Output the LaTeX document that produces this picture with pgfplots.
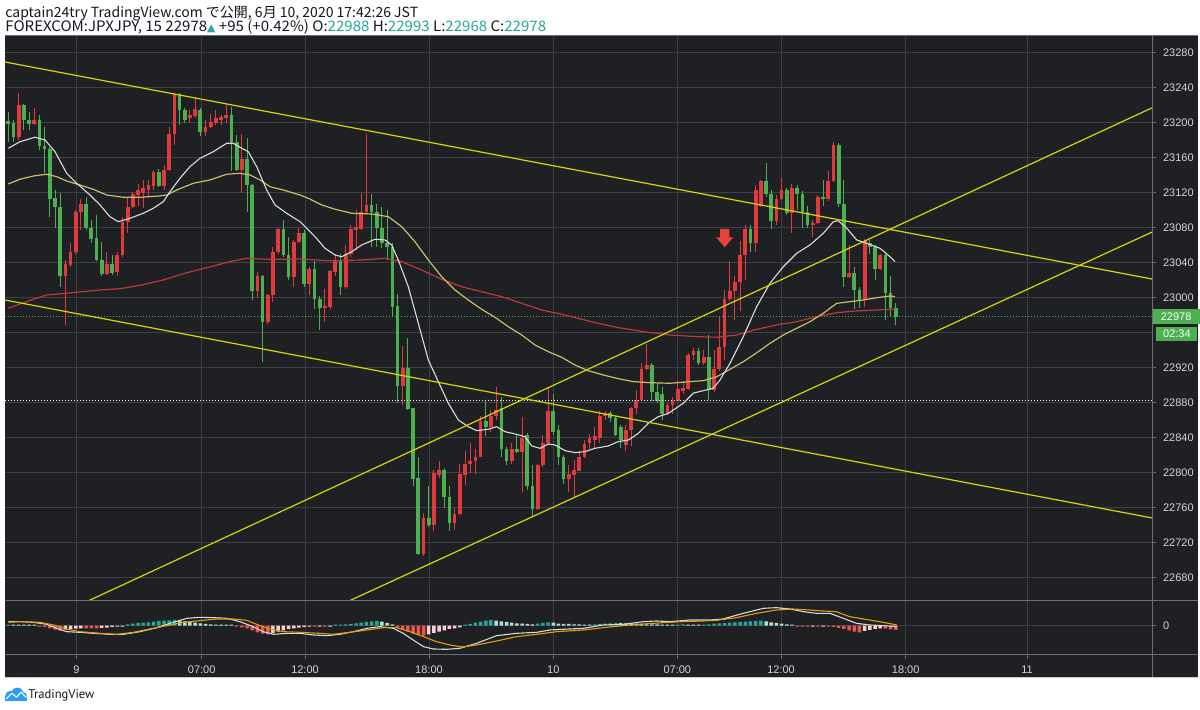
\documentclass[border=0pt]{standalone}
\usepackage{fontspec}
\setmainfont{Liberation Sans}
\newfontfamily\cjk{Noto Sans CJK JP}
\newfontfamily\dejavu{DejaVu Sans}
\newfontfamily\ptsans{PT Sans}
\usepackage{pgfplots}
\usepackage{pgfplotstable}
\pgfplotsset{compat=1.18}
\definecolor{chartbg}{HTML}{1F2024}
\definecolor{gridc}{HTML}{3D3F46}
\definecolor{sepc}{HTML}{6B6E77}
\definecolor{upred}{HTML}{E0393E}
\definecolor{dngreen}{HTML}{4CAF50}
\definecolor{maW}{HTML}{DCDCDC}
\definecolor{maY}{HTML}{C9BC6A}
\definecolor{maR}{HTML}{B83B3B}
\definecolor{trendY}{HTML}{D6D60A}
\definecolor{macdW}{HTML}{D8D8D8}
\definecolor{sigO}{HTML}{DFA00F}
\definecolor{tealD}{HTML}{26A69A}
\definecolor{tealL}{HTML}{B2DFDB}
\definecolor{redH}{HTML}{EF5350}
\definecolor{pinkH}{HTML}{FFCDD2}
\definecolor{lbl}{HTML}{D1D4DC}
\definecolor{headtxt}{HTML}{131722}
\definecolor{headteal}{HTML}{26A69A}
\definecolor{arrowred}{HTML}{E8403A}
\definecolor{tvblue}{HTML}{2A9DF4}
\definecolor{borderc}{HTML}{C8CCD6}

\pgfdeclareplotmark{tvarrow}{%
  \pgfpathmoveto{\pgfpoint{-2.33pt}{4.15pt}}%
  \pgfpathlineto{\pgfpoint{2.33pt}{4.15pt}}%
  \pgfpathlineto{\pgfpoint{2.33pt}{0pt}}%
  \pgfpathlineto{\pgfpoint{4.33pt}{0pt}}%
  \pgfpathlineto{\pgfpoint{0pt}{-5pt}}%
  \pgfpathlineto{\pgfpoint{-4.33pt}{0pt}}%
  \pgfpathlineto{\pgfpoint{-2.33pt}{0pt}}%
  \pgfpathclose\pgfusepathqfill}

% up candles (red): k o h l c
\pgfplotstableread[row sep=\\]{
k o h l c\\
2 23183 23233 23180 23220\\
5 23198 23216 23197 23203\\
11 23024 23043 22968 23038\\
12 23037 23062 23035 23052\\
13 23052 23100 23050 23098\\
14 23098 23112 23077 23107\\
19 23027 23052 23025 23038\\
21 23029 23052 23024 23048\\
22 23048 23092 23046 23086\\
23 23086 23113 23073 23103\\
24 23103 23120 23102 23118\\
25 23117 23129 23104 23123\\
26 23119 23134 23102 23125\\
27 23123 23134 23115 23128\\
28 23127 23145 23123 23143\\
30 23127 23151 23123 23145\\
31 23145 23195 23144 23187\\
32 23187 23233 23174 23232\\
35 23205 23214 23199 23208\\
36 23207 23229 23205 23215\\
38 23189 23203 23184 23195\\
39 23195 23210 23193 23200\\
40 23199 23214 23197 23205\\
41 23203 23208 23197 23206\\
42 23205 23221 23199 23208\\
45 23145 23187 23119 23158\\
48 23007 23029 22999 23024\\
50 22972 23004 22970 23003\\
51 23003 23058 22995 23052\\
52 23052 23079 23050 23078\\
55 23023 23065 23012 23063\\
56 23063 23079 23062 23073\\
58 23015 23035 23003 23032\\
61 22988 23010 22972 22990\\
62 22989 23031 22987 23030\\
63 23029 23050 23024 23043\\
65 23012 23060 23010 23050\\
66 23050 23083 23046 23078\\
67 23077 23100 23054 23080\\
68 23078 23119 23077 23098\\
69 23098 23187 23096 23105\\
76 22899 22944 22877 22919\\
80 22707 22753 22704 22748\\
82 22740 22803 22733 22799\\
83 22797 22813 22793 22803\\
86 22742 22759 22734 22752\\
87 22752 22810 22751 22798\\
88 22797 22824 22785 22810\\
89 22810 22834 22799 22813\\
90 22813 22827 22798 22818\\
91 22818 22864 22817 22859\\
93 22852 22871 22846 22864\\
94 22864 22898 22860 22871\\
97 22813 22833 22810 22827\\
99 22823 22863 22778 22839\\
102 22758 22810 22757 22808\\
103 22808 22843 22806 22833\\
104 22833 22898 22831 22870\\
108 22792 22808 22778 22798\\
109 22797 22814 22772 22803\\
110 22802 22824 22801 22818\\
111 22817 22837 22816 22832\\
112 22834 22844 22827 22839\\
113 22837 22852 22828 22842\\
114 22839 22870 22834 22864\\
115 22864 22870 22860 22868\\
119 22831 22854 22824 22848\\
120 22848 22875 22830 22873\\
121 22873 22894 22867 22883\\
122 22883 22925 22882 22918\\
123 22918 22947 22917 22923\\
127 22867 22879 22865 22877\\
128 22877 22886 22867 22882\\
129 22882 22904 22881 22895\\
130 22893 22904 22890 22896\\
131 22895 22936 22894 22934\\
132 22934 22942 22928 22939\\
134 22925 22940 22923 22932\\
136 22894 22940 22892 22918\\
137 22918 22978 22916 22943\\
138 22943 23008 22928 22998\\
139 22998 23041 22996 23007\\
140 23007 23024 22974 23018\\
141 23018 23064 22984 23048\\
142 23048 23083 23020 23078\\
144 23062 23128 23052 23123\\
145 23104 23134 23103 23133\\
148 23087 23117 23083 23112\\
149 23112 23136 23111 23123\\
151 23096 23130 23074 23125\\
155 23083 23088 23069 23085\\
156 23085 23117 23084 23115\\
158 23112 23144 23110 23133\\
159 23133 23178 23132 23174\\
162 23023 23060 23022 23028\\
165 22997 23067 22989 23064\\
168 23032 23050 23031 23048\\
}\upc

% down candles (green): k o h l c
\pgfplotstableread[row sep=\\]{
k o h l c\\
0 23201 23212 23178 23198\\
1 23199 23203 23178 23183\\
3 23220 23221 23191 23203\\
4 23203 23212 23191 23198\\
6 23203 23208 23168 23173\\
7 23173 23195 23142 23169\\
8 23170 23172 23092 23112\\
9 23113 23123 23079 23103\\
10 23103 23119 23012 23024\\
15 23107 23115 23077 23079\\
16 23079 23088 23062 23067\\
17 23068 23094 23041 23043\\
18 23043 23063 23024 23027\\
20 23038 23048 23025 23028\\
29 23143 23147 23126 23127\\
33 23232 23233 23197 23214\\
34 23214 23216 23199 23203\\
37 23214 23216 23184 23189\\
43 23208 23218 23144 23177\\
44 23177 23185 23144 23145\\
46 23158 23182 23098 23128\\
47 23128 23130 22997 23007\\
49 23024 23025 22926 22972\\
53 23078 23088 23046 23048\\
54 23048 23069 23020 23023\\
57 23073 23077 23012 23015\\
59 23032 23041 22987 22998\\
60 22998 23001 22963 22988\\
64 23043 23050 23003 23012\\
70 23105 23118 23058 23098\\
71 23098 23107 23058 23079\\
72 23079 23103 23056 23062\\
73 23062 23100 23043 23057\\
74 23058 23062 22978 22989\\
75 22990 23004 22879 22899\\
77 22919 22953 22871 22872\\
78 22873 22874 22784 22792\\
79 22793 22818 22705 22707\\
81 22748 22784 22738 22740\\
84 22803 22805 22759 22772\\
85 22772 22784 22733 22742\\
92 22859 22883 22841 22852\\
95 22873 22886 22817 22827\\
96 22827 22829 22808 22813\\
98 22827 22843 22822 22823\\
100 22843 22845 22780 22784\\
101 22784 22808 22749 22758\\
105 22870 22890 22843 22846\\
106 22848 22854 22808 22817\\
107 22818 22820 22787 22792\\
116 22868 22870 22858 22862\\
117 22862 22864 22842 22843\\
118 22852 22854 22828 22837\\
124 22923 22925 22881 22892\\
125 22892 22902 22879 22882\\
126 22890 22898 22860 22867\\
133 22939 22942 22923 22925\\
135 22932 22957 22883 22894\\
143 23078 23083 23052 23062\\
146 23133 23153 23115 23118\\
147 23118 23123 23078 23087\\
150 23123 23125 23094 23096\\
152 23125 23128 23100 23118\\
153 23118 23121 23079 23097\\
154 23098 23104 23079 23083\\
157 23115 23134 23104 23112\\
160 23174 23176 23103 23107\\
161 23107 23134 23012 23023\\
163 23028 23035 22987 23008\\
164 23008 23012 22988 22997\\
166 23062 23066 23050 23058\\
167 23058 23060 23020 23032\\
169 23048 23050 22974 23005\\
170 23005 23024 22977 22988\\
171 22988 22993 22968 22978\\
}\dnc

% white moving average
\pgfplotstableread[row sep=\\]{
k p\\
0 23170.3\\ 2.25 23177.8\\ 5.14 23182.9\\ 7.07 23179.8\\ 9.0 23166.4\\ 11.25 23141.7\\
13.18 23130.3\\ 15.74 23116.9\\ 17.67 23105.5\\ 19.59 23092.1\\ 21.19 23086.4\\ 23.45 23090.3\\
26.01 23096.0\\ 27.94 23101.7\\ 29.87 23109.3\\ 31.16 23120.7\\ 33.08 23136.0\\ 35.01 23149.3\\
36.94 23158.9\\ 39.5 23166.4\\ 42.08 23176.0\\ 43.35 23176.0\\ 44.97 23170.3\\ 46.24 23166.4\\
47.86 23149.3\\ 49.79 23122.6\\ 51.39 23105.5\\ 53.64 23096.0\\ 56.2 23086.4\\ 57.17 23080.7\\
59.1 23069.3\\ 61.02 23056.0\\ 62.95 23048.3\\ 64.24 23046.4\\ 66.17 23052.1\\ 68.09 23059.8\\
70.66 23066.3\\ 72.58 23065.5\\ 73.87 23059.8\\ 75.14 23042.6\\ 77.07 23012.1\\ 79.0 22970.3\\
80.93 22928.3\\ 82.85 22903.6\\ 84.78 22878.9\\ 86.71 22859.8\\ 88.63 22852.1\\ 90.25 22847.6\\
92.49 22849.2\\ 94.1 22852.1\\ 95.7 22846.4\\ 97.63 22843.8\\ 99.56 22840.7\\ 100.85 22830.1\\
102.45 22827.4\\ 104.05 22832.3\\ 105.34 22831.2\\ 107.27 22824.7\\ 109.19 22822.5\\ 111.12 22823.6\\
113.05 22827.4\\ 115.6 22830.1\\ 117.5 22835.0\\ 119.5 22836.9\\ 121.4 22844.6\\ 123.3 22856.0\\
125.2 22863.5\\ 127.2 22867.4\\ 130.06 22878.9\\ 131.98 22890.4\\ 133.91 22893.3\\ 135.84 22896.0\\
137.13 22905.5\\ 139.06 22924.6\\ 141.62 22955.0\\ 144.2 22989.3\\ 146.76 23016.0\\ 149.33 23035.0\\
151.91 23050.3\\ 154.47 23059.8\\ 157.03 23073.1\\ 158.96 23086.4\\ 159.92 23087.5\\ 161.54 23078.9\\
163.47 23065.5\\ 165.4 23061.7\\ 167.96 23056.0\\ 169.88 23046.4\\ 170.85 23040.7\\
}\maw

% yellow moving average
\pgfplotstableread[row sep=\\]{
k p\\
0 23129.5\\ 2.25 23134.9\\ 4.82 23138.6\\ 7.4 23140.6\\ 9.33 23137.8\\ 11.25 23132.9\\
13.82 23128.3\\ 16.38 23123.4\\ 18.96 23116.9\\ 22.16 23114.3\\ 25.38 23114.3\\ 29.23 23115.8\\
30.52 23116.9\\ 32.45 23122.6\\ 35.65 23130.3\\ 38.86 23134.1\\ 42.08 23140.6\\ 44.64 23141.7\\
46.57 23139.8\\ 48.5 23134.1\\ 50.42 23126.4\\ 52.99 23122.6\\ 56.2 23116.9\\ 57.8 23113.1\\
60.39 23105.5\\ 62.95 23100.6\\ 66.17 23096.0\\ 70.02 23095.2\\ 73.22 23092.1\\ 75.8 23080.7\\
78.36 23063.5\\ 80.93 23042.6\\ 83.51 23023.5\\ 86.07 23008.3\\ 88.63 22996.9\\ 91.21 22986.3\\
93.78 22977.1\\ 96.34 22966.4\\ 98.92 22956.9\\ 101.48 22945.5\\ 104.05 22937.8\\ 106.63 22931.4\\
109.19 22922.6\\ 111.75 22916.1\\ 114.64 22911.2\\ 117.23 22907.4\\ 120.42 22903.6\\ 123.64 22902.4\\
127.5 22901.7\\ 131.35 22903.6\\ 133.91 22904.7\\ 136.49 22909.2\\ 139.06 22917.7\\ 141.62 22926.4\\
144.2 22936.6\\ 146.76 22947.4\\ 149.33 22956.9\\ 151.91 22964.6\\ 154.47 22972.1\\ 157.03 22981.7\\
159.61 22993.1\\ 162.18 22995.0\\ 164.74 22996.9\\ 167.32 22999.5\\ 169.88 23001.5\\ 170.85 23000.7\\
}\may

% red moving average
\pgfplotstableread[row sep=\\]{
k p\\
0 22987.4\\ 2.25 22992.3\\ 4.82 22997.7\\ 7.4 23002.6\\ 11.25 23004.6\\ 15.11 23006.9\\
17.67 23008.3\\ 21.52 23009.8\\ 25.38 23013.7\\ 29.87 23019.8\\ 34.37 23028.1\\ 38.23 23033.8\\
42.72 23040.7\\ 45.93 23044.6\\ 49.79 23043.4\\ 53.64 23043.4\\ 56.2 23043.8\\ 61.66 23041.8\\
68.09 23042.6\\ 72.58 23044.6\\ 75.8 23040.7\\ 79.65 23031.2\\ 83.51 23020.6\\ 87.36 23012.1\\
91.21 23006.4\\ 95.07 23000.7\\ 98.92 22993.1\\ 102.77 22985.5\\ 106.63 22980.6\\ 110.48 22974.9\\
113.05 22971.0\\ 117.23 22965.7\\ 122.35 22960.7\\ 127.5 22956.9\\ 132.64 22955.0\\ 136.49 22954.3\\
140.35 22956.9\\ 144.2 22963.4\\ 148.05 22968.4\\ 151.91 22972.1\\ 155.76 22977.8\\ 159.61 22982.4\\
163.47 22984.4\\ 167.32 22985.5\\ 170.85 22986.6\\
}\mar

% MACD line and signal
\pgfplotstableread[row sep=\\]{
k v\\
0 12\\ 2.3 12\\ 4.8 10\\ 7.4 4\\ 9.3 -8\\ 11.2 -18\\ 13.8 -20\\ 16.4 -23\\ 19.6 -26\\ 22.2 -26\\
25.4 -18\\ 28.6 -6\\ 31.8 10\\ 34.4 22\\ 36.9 25\\ 39.5 24\\ 42.1 22\\ 44.6 12\\ 47.2 -3\\ 49.1 -18\\
51.1 -26\\ 53.6 -23\\ 56.2 -23\\ 58.8 -28\\ 61.3 -30\\ 63.9 -26\\ 66.5 -18\\ 69.1 -8\\ 71.6 -3\\
74.2 -8\\ 76.1 -23\\ 78.0 -43\\ 80.0 -63\\ 81.9 -70\\ 84.5 -71\\ 87.0 -68\\ 90.2 -53\\ 94.1 -30\\
97.9 -23\\ 101.8 -20\\ 104.4 -13\\ 106.9 -11\\ 110.8 -8\\ 114.6 2\\ 118.5 4\\ 122.4 12\\ 124.9 14\\
127.5 12\\ 131.3 17\\ 135.2 17\\ 137.7 20\\ 141.6 37\\ 145.5 52\\ 148.0 54\\ 150.6 50\\ 153.2 42\\
155.7 37\\ 158.3 37\\ 160.9 22\\ 163.4 7\\ 166.0 2\\ 168.6 0\\ 171.2 -3\\
}\macdl
\pgfplotstableread[row sep=\\]{
k v\\
0 10\\ 2.3 12\\ 6.1 10\\ 8.7 2\\ 11.2 -10\\ 13.8 -18\\ 17.7 -23\\ 20.9 -26\\ 24.1 -20\\ 27.3 -10\\
30.5 0\\ 33.7 10\\ 36.9 15\\ 40.1 20\\ 43.4 20\\ 45.9 16\\ 48.5 0\\ 50.4 -10\\ 53.0 -18\\ 56.2 -20\\
60.0 -23\\ 62.6 -26\\ 65.8 -20\\ 69.1 -13\\ 72.3 -6\\ 74.8 -6\\ 77.4 -18\\ 80.0 -33\\ 82.5 -48\\
85.1 -58\\ 87.5 -64\\ 90.2 -58\\ 94.1 -46\\ 97.9 -33\\ 101.8 -26\\ 105.7 -18\\ 110.8 -13\\ 114.6 -6\\
118.5 0\\ 122.4 5\\ 126.2 9\\ 130.0 12\\ 133.9 14\\ 136.5 16\\ 140.3 24\\ 144.2 37\\ 148.0 47\\
151.2 50\\ 154.3 47\\ 156.9 44\\ 159.5 42\\ 162.1 27\\ 165.9 17\\ 168.6 10\\ 171.2 2\\
}\sigl

% MACD histogram, by colour
\pgfplotstableread[row sep=\\]{
k v\\
0 3\\ 23 4\\ 24 6\\ 25 8\\ 26 9\\ 27 10\\ 28 12\\ 29 14\\ 30 15\\ 31 16\\ 32 17\\
63 3\\ 64 3\\ 65 4\\ 66 5\\ 67 7\\ 68 9\\ 69 11\\ 70 13\\ 71 14\\
88 3\\ 89 5\\ 90 9\\ 91 12\\ 92 15\\ 93 17\\ 102 6\\ 103 8\\ 104 10\\
113 4\\ 114 5\\ 115 6\\ 116 7\\ 117 8\\ 129 3\\ 130 4\\ 134 3\\ 135 4\\ 136 6\\
137 7\\ 138 8\\ 139 9\\ 140 10\\ 141 11\\ 142 12\\ 143 13\\ 144 14\\ 145 15\\
}\hteal
\pgfplotstableread[row sep=\\]{
k v\\
1 3\\ 2 3\\ 3 3\\ 4 3\\ 5 3\\ 33 15\\ 34 13\\ 35 11\\ 36 9\\ 37 7\\ 38 5\\ 39 4\\ 40 3\\ 41 3\\ 42 3\\ 43 3\\
72 12\\ 73 8\\ 74 4\\ 94 15\\ 95 13\\ 96 11\\ 97 9\\ 98 7\\ 99 6\\ 100 5\\ 101 4\\
105 9\\ 106 6\\ 107 5\\ 108 5\\ 109 4\\ 110 4\\ 111 3\\ 112 3\\
118 8\\ 119 7\\ 120 7\\ 121 6\\ 122 5\\ 123 4\\ 124 4\\ 125 4\\ 126 3\\ 127 3\\ 128 3\\
131 3\\ 132 3\\ 133 3\\ 146 13\\ 147 10\\ 148 8\\ 149 6\\ 150 4\\ 151 3\\
}\hlight
\pgfplotstableread[row sep=\\]{
k v\\
6 -3\\ 7 -4\\ 8 -8\\ 9 -12\\ 10 -15\\ 15 -8\\ 16 -8\\ 17 -8\\
44 -3\\ 45 -5\\ 46 -8\\ 47 -14\\ 48 -20\\ 49 -24\\ 50 -26\\ 59 -3\\ 61 -3\\
75 -6\\ 76 -12\\ 77 -18\\ 78 -24\\ 79 -28\\ 80 -30\\
152 -3\\ 153 -3\\ 154 -3\\ 156 -3\\ 158 -3\\ 159 -4\\ 160 -7\\ 161 -10\\ 162 -14\\ 163 -18\\ 164 -20\\
169 -9\\ 170 -11\\ 171 -13\\
}\hred
\pgfplotstableread[row sep=\\]{
k v\\
11 -12\\ 12 -10\\ 13 -9\\ 14 -8\\ 18 -7\\ 19 -6\\ 20 -4\\ 21 -3\\ 22 -3\\
51 -22\\ 52 -18\\ 53 -14\\ 54 -10\\ 55 -8\\ 56 -6\\ 57 -4\\ 58 -3\\ 60 -3\\ 62 -3\\
81 -26\\ 82 -22\\ 83 -18\\ 84 -14\\ 85 -10\\ 86 -8\\ 87 -5\\
155 -3\\ 157 -3\\ 165 -16\\ 166 -13\\ 167 -10\\ 168 -8\\
}\hpink

\pgfplotsset{
  tvcandle/.style={only marks, mark=*, mark size=0pt,
    mark options={draw=none, fill=none}, forget plot,
    error bars/.cd, y dir=plus, y explicit, error mark=none},
  tvbase/.style={scale only axis, anchor=south west, width=573.5pt,
    xmin=-0.636, xmax=220.366, axis line style={draw=none},
    xtick={13.14,37.26,57.17,81.06,105.0,128.9,148.9,172.9,196.3},
    xmajorgrids, ymajorgrids,
    grid style={draw=gridc, line width=0.5pt},
    tick align=outside, major tick length=2pt,
    ytick pos=right, yticklabel pos=right,
    scaled y ticks=false,
    ytick style={draw=sepc, line width=0.5pt},
    yticklabel style={font=\fontsize{5.5}{6}\selectfont, text=lbl,
      /pgf/number format/fixed, /pgf/number format/precision=0,
      /pgf/number format/1000 sep={}},
    /pgf/number format/1000 sep={},
    /pgf/number format/assume math mode=true},
}

\begin{document}
\begin{tikzpicture}
\useasboundingbox (0,0) rectangle (600pt,355pt);
\fill[white] (0,0) rectangle (600pt,355pt);
\fill[chartbg] (2.5pt,16pt) rectangle (599pt,337pt);

% header
\node[anchor=base west, inner sep=0pt, text=headtxt,
      font=\cjk\fontsize{7.0}{8}\selectfont] at (2.5pt,346.3pt)
  {captain24try TradingView.com で公開, 6月 10, 2020 17:42:26 JST};
\node[anchor=base west, inner sep=0pt, text=headtxt,
      font=\cjk\fontsize{7.2}{8}\selectfont] at (2.5pt,339pt)
  {\scalebox{1.045}[1]{FOREXCOM:JPXJPY, 15 22978{\color{headteal}\dejavu\fontsize{5.2}{6}\selectfont\raisebox{0.3pt}{▲}} +95 (+0.42\%) O:{\color{headteal}22988} H:{\color{headteal}22993} L:{\color{headteal}22968} C:{\color{headteal}22978}}};

% main price panel
\begin{axis}[tvbase, at={(2.5pt,54.5pt)}, height=282.5pt,
  ymin=22652.91, ymax=23298.63, clip mode=individual,
  xticklabel=\empty, xtick style={draw=none},
  ytick={22680,22720,22760,22800,22840,22880,22920,23000,23040,23080,23120,23160,23200,23240,23280},
  extra y ticks={22960}, extra y tick labels={},
  extra y tick style={ytick style={draw=none}}]

% candles
\addplot[tvcandle, error bar style={draw=upred, line width=0.5pt}]
  table[x=k, y=l, y error plus expr=\thisrow{h}-\thisrow{l}] {\upc};
\addplot[tvcandle, error bar style={draw=upred, line width=1.85pt}]
  table[x=k, y=o, y error plus expr=\thisrow{c}-\thisrow{o}] {\upc};
\addplot[tvcandle, error bar style={draw=dngreen, line width=0.5pt}]
  table[x=k, y=l, y error plus expr=\thisrow{h}-\thisrow{l}] {\dnc};
\addplot[tvcandle, error bar style={draw=dngreen, line width=1.85pt}]
  table[x=k, y=c, y error plus expr=\thisrow{o}-\thisrow{c}] {\dnc};

% horizontal dotted lines
\addplot[white, line width=0.5pt, dash pattern=on 0.5pt off 1pt]
  coordinates {(-0.636,22881.5) (220.366,22881.5)};
\addplot[dngreen, line width=0.5pt, dash pattern=on 0.5pt off 1pt]
  coordinates {(-0.636,22978) (220.366,22978)};

% moving averages
\addplot[maR, line width=0.6pt] table[x=k, y=p] {\mar};
\addplot[maY, line width=0.6pt] table[x=k, y=p] {\may};
\addplot[maW, line width=0.55pt] table[x=k, y=p] {\maw};

% trend lines
\addplot[trendY, line width=0.6pt] coordinates {(-0.636,23268.9) (220.366,23020.9)};
\addplot[trendY, line width=0.6pt] coordinates {(-0.636,22996.9) (220.366,22747.8)};
\addplot[trendY, line width=0.6pt] coordinates {(0,22610.7) (220.366,23216.5)};
\addplot[trendY, line width=0.6pt] coordinates {(50,22610.3) (220.366,23074.5)};

% red arrow
\addplot[only marks, mark=tvarrow, mark options={fill=arrowred, draw=none}]
  coordinates {(138.03,23068.6)};

% last price labels
\node[anchor=west, fill=dngreen, text=white, inner sep=0pt, minimum width=23.7pt,
      minimum height=7.6pt, font=\fontsize{5.5}{6}\selectfont] at (axis cs:220.366,22978) {22978};
\node[anchor=west, fill=dngreen, text=white, inner sep=0pt, minimum width=20.5pt,
      minimum height=7.4pt, font=\fontsize{5.5}{6}\selectfont] at ([xshift=2pt]axis cs:220.366,22958.1) {02:34};
\end{axis}

% MACD panel
\begin{axis}[tvbase, at={(2.5pt,27.5pt)}, height=27pt,
  ymin=-88, ymax=74, ytick={0},
  xtick pos=left,
  xtick style={draw=sepc, line width=0.5pt},
  xticklabels={9,07:00,12:00,18:00,10,07:00,12:00,18:00,11},
  xticklabel style={font=\fontsize{5.5}{6}\selectfont, text=lbl}]
\addplot[ybar, bar width=1.75pt, bar shift=0pt, fill=tealD, draw=none] table[x=k, y=v] {\hteal};
\addplot[ybar, bar width=1.75pt, bar shift=0pt, fill=tealL, draw=none] table[x=k, y=v] {\hlight};
\addplot[ybar, bar width=1.75pt, bar shift=0pt, fill=redH, draw=none] table[x=k, y=v] {\hred};
\addplot[ybar, bar width=1.75pt, bar shift=0pt, fill=pinkH, draw=none] table[x=k, y=v] {\hpink};
\addplot[macdW, line width=0.55pt] table[x=k, y=v] {\macdl};
\addplot[sigO, line width=0.55pt] table[x=k, y=v] {\sigl};
\end{axis}

% pane separators
\draw[sepc, line width=0.5pt] (2.5pt,337pt) -- (599pt,337pt);
\draw[sepc, line width=0.5pt] (2.5pt,54.5pt) -- (599pt,54.5pt);
\draw[sepc, line width=0.5pt] (2.5pt,27.5pt) -- (599pt,27.5pt);
\draw[sepc, line width=0.5pt] (576pt,16pt) -- (576pt,337pt);
\draw[borderc, line width=0.5pt] (2.5pt,16pt) -- (599pt,16pt);

% footer logo
\begin{scope}
\fill[tvblue] (2.5pt,4.6pt) rectangle (13.3pt,7.2pt);
\fill[tvblue] (5.2pt,7pt) circle (2.6pt);
\fill[tvblue] (8.7pt,8.2pt) circle (3pt);
\fill[tvblue] (11.4pt,6.9pt) circle (2.1pt);
\draw[white, line width=0.55pt, line join=round] (3.2pt,5.6pt) -- (6pt,8.4pt) -- (8.2pt,6.4pt) -- (10.6pt,8.9pt) -- (13.2pt,6.2pt);
\end{scope}
\node[anchor=base west, inner sep=0pt, text=headtxt, font=\ptsans\fontsize{6.3}{7}\selectfont] at (14pt,5.6pt) {TradingView};
\end{tikzpicture}
\end{document}
